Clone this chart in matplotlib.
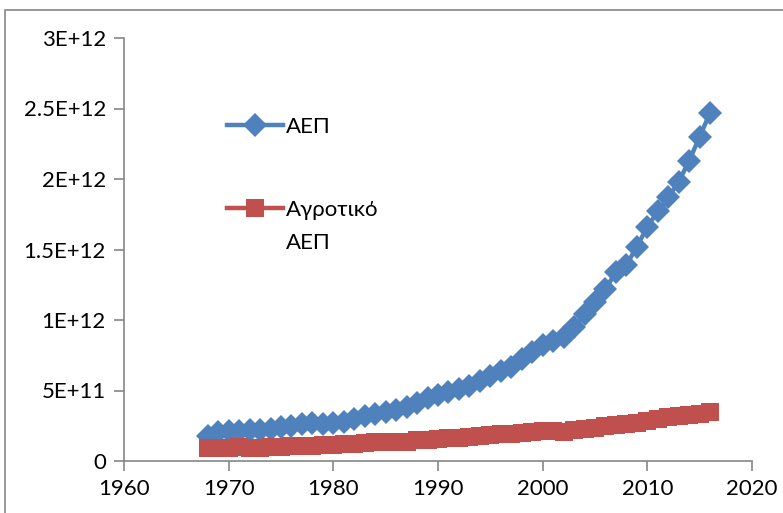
import matplotlib
matplotlib.use("Agg")
import matplotlib.pyplot as plt
from matplotlib.patches import Rectangle

# years shown on the chart
years = list(range(1968, 2017))

# ΑΕΠ (in units of 1E+12)
gdp = [0.18, 0.205, 0.21, 0.21, 0.22, 0.22, 0.23, 0.24, 0.25, 0.26,
       0.27, 0.265, 0.27, 0.28, 0.30, 0.32, 0.33, 0.35, 0.36, 0.38,
       0.41, 0.45, 0.47, 0.49, 0.51, 0.53, 0.57, 0.60, 0.64, 0.67,
       0.72, 0.77, 0.82, 0.85, 0.88, 0.95, 1.04, 1.13, 1.22, 1.34,
       1.39, 1.52, 1.66, 1.77, 1.87, 1.98, 2.13, 2.30, 2.47]

# Αγροτικό ΑΕΠ (in units of 1E+12)
agri = [0.090, 0.092, 0.095, 0.096, 0.094, 0.095, 0.100, 0.102, 0.105, 0.108,
        0.104, 0.110, 0.112, 0.118, 0.122, 0.128, 0.132, 0.135, 0.136, 0.137,
        0.148, 0.152, 0.156, 0.160, 0.165, 0.172, 0.180, 0.184, 0.190, 0.195,
        0.198, 0.205, 0.210, 0.212, 0.208, 0.220, 0.228, 0.235, 0.245, 0.255,
        0.262, 0.268, 0.285, 0.300, 0.310, 0.320, 0.325, 0.330, 0.350]

xticks = [1960, 1970, 1980, 1990, 2000, 2010, 2020]
yticks = [0, 5e11, 1e12, 1.5e12, 2e12, 2.5e12, 3e12]
ytick_labels = ["0", "5E+11", "1E+12", "1.5E+12", "2E+12", "2.5E+12", "3E+12"]

blue = "#4F81BD"
red = "#C0504D"
grey = "#868686"

plt.rcParams["font.family"] = ["Lato", "DejaVu Sans"]

fig = plt.figure(figsize=(7.83, 5.13), dpi=100)
ax = fig.add_axes([124 / 783, 1 - 461 / 513, (752 - 124) / 783, (461 - 38) / 513])

# outer chart border
fig.patches.append(Rectangle((5 / 783, -0.1), 1.2, 1 - 10 / 513 + 0.1,
                             transform=fig.transFigure, fill=False,
                             edgecolor=grey, linewidth=1.2))

ax.plot(years, [v * 1e12 for v in gdp], color=blue, lw=3.2, marker="D",
        ms=12, markeredgewidth=0, label="ΑΕΠ")
ax.plot(years, [v * 1e12 for v in agri], color=red, lw=3.2, marker="s",
        ms=13, markeredgewidth=0, label="Αγροτικό\nΑΕΠ")

ax.set_xlim(1960, 2020)
ax.set_ylim(0, 3e12)
ax.set_xticks(xticks)
ax.set_yticks(yticks)
ax.set_yticklabels(ytick_labels)

for s in ["top", "right"]:
    ax.spines[s].set_visible(False)
for s in ["left", "bottom"]:
    ax.spines[s].set_color(grey)
    ax.spines[s].set_linewidth(1.2)
ax.tick_params(axis="both", colors=grey, labelcolor="black", labelsize=16,
               length=7, width=1.2, direction="out")
ax.tick_params(axis="x", pad=6)
ax.tick_params(axis="y", pad=6)

leg = ax.legend(loc="upper left", bbox_to_anchor=(0.15, 0.835), frameon=False,
                fontsize=16, handlelength=2.5, handletextpad=0.15,
                labelspacing=2.85, borderaxespad=0, handleheight=0.9)
leg.get_texts()[1].set_linespacing(1.8)
# keep the handle level with the first line of a two-line label
for col in leg._legend_handle_box.get_children():
    for row in col.get_children():
        row.align = "top"

fig.savefig("out.png", dpi=100)
